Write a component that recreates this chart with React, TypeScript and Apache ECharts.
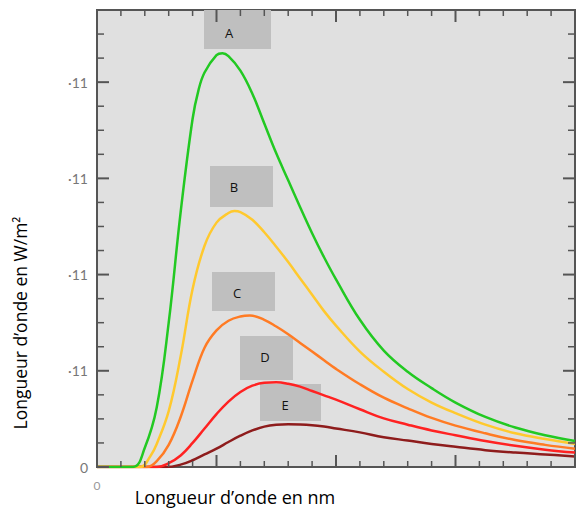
import React, { useEffect, useRef } from "react";
import * as echarts from "echarts";

// Curves: [wavelength (axis units), intensity (axis units)]
const curveA: number[][] = [[0,0],[0.30,0],[0.40,0.2],[0.50,0.62],[0.60,1.5],[0.70,2.65],[0.80,3.62],[0.85,3.92],[0.90,4.10],[1.00,4.28],[1.05,4.30],[1.10,4.27],[1.20,4.12],[1.30,3.88],[1.40,3.57],[1.50,3.26],[1.60,2.98],[1.70,2.70],[1.80,2.43],[1.90,2.18],[2.00,1.95],[2.20,1.53],[2.40,1.21],[2.60,0.99],[2.80,0.82],[3.00,0.67],[3.25,0.52],[3.50,0.41],[3.75,0.33],[4.00,0.27]];
const curveB: number[][] = [[0,0],[0.36,0],[0.45,0.12],[0.50,0.24],[0.60,0.58],[0.70,1.15],[0.80,1.85],[0.90,2.30],[1.00,2.54],[1.10,2.64],[1.15,2.66],[1.20,2.65],[1.30,2.57],[1.40,2.44],[1.50,2.29],[1.60,2.13],[1.70,1.96],[1.80,1.79],[1.90,1.62],[2.00,1.47],[2.20,1.20],[2.40,0.99],[2.60,0.81],[2.80,0.67],[3.00,0.56],[3.25,0.44],[3.50,0.35],[3.75,0.29],[4.00,0.24]];
const curveC: number[][] = [[0,0],[0.42,0],[0.50,0.06],[0.60,0.23],[0.70,0.52],[0.80,0.90],[0.90,1.24],[1.00,1.42],[1.10,1.52],[1.20,1.565],[1.28,1.575],[1.40,1.53],[1.50,1.46],[1.60,1.38],[1.70,1.29],[1.80,1.20],[1.90,1.11],[2.00,1.02],[2.20,0.86],[2.40,0.72],[2.60,0.61],[2.80,0.51],[3.00,0.43],[3.25,0.35],[3.50,0.28],[3.75,0.23],[4.00,0.19]];
const curveD: number[][] = [[0,0],[0.50,0],[0.60,0.04],[0.70,0.12],[0.80,0.25],[0.90,0.40],[1.00,0.55],[1.10,0.68],[1.20,0.78],[1.30,0.845],[1.40,0.875],[1.50,0.88],[1.60,0.865],[1.70,0.835],[1.80,0.79],[1.90,0.745],[2.00,0.70],[2.20,0.60],[2.40,0.505],[2.60,0.44],[2.80,0.38],[3.00,0.33],[3.25,0.27],[3.50,0.22],[3.75,0.18],[4.00,0.15]];
const curveE: number[][] = [[0,0],[0.58,0],[0.70,0.025],[0.80,0.07],[0.90,0.13],[1.00,0.19],[1.10,0.26],[1.20,0.325],[1.30,0.38],[1.40,0.42],[1.50,0.44],[1.60,0.445],[1.70,0.443],[1.80,0.435],[1.90,0.42],[2.00,0.40],[2.20,0.36],[2.40,0.31],[2.60,0.275],[2.80,0.24],[3.00,0.21],[3.25,0.175],[3.50,0.15],[3.75,0.13],[4.00,0.11]];

const seriesNames = ["A", "B", "C", "D", "E"];
const seriesColors = ["#22c922", "#ffc92e", "#ff7b24", "#ff2222", "#8e1c1c"];
const seriesData = [curveA, curveB, curveC, curveD, curveE];

// tick positions (axis values)
const xMajorTicks = [0, 1, 2, 3, 4];
const xMinorTicks = [0.2, 0.4, 0.6, 0.8, 1.2, 1.4, 1.6, 1.8, 2.2, 2.4, 2.6, 2.8, 3.2, 3.4, 3.6, 3.8];
const yMajorTicks = [0, 1, 2, 3, 4];
const yMinorTicks = [0.25, 0.5, 0.75, 1.25, 1.5, 1.75, 2.25, 2.5, 2.75, 3.25, 3.5, 3.75, 4.25, 4.5];

const X_MIN = 0;
const X_MAX = 4;
const Y_MIN = 0;
const Y_MAX = 4.75;

const xTitle = "Longueur d\u2019onde en nm";
const yTitle = "Longueur d\u2019onde en W/m\u00b2";
const yTickText = "\u00b711";

// annotation boxes [left, top, width, height, textX, textY]
const boxes = [
  [204, 10, 67, 39, 229, 33],
  [210, 166, 63, 41, 234, 187],
  [212, 272, 63, 39, 237, 293],
  [240, 336, 53, 44, 265, 357],
  [260, 384, 61, 37, 285, 405],
];

const AXIS_COLOR = "#555555";
const MAJOR_LEN = 12;
const MINOR_LEN = 7;

export default function App() {
  const ref = useRef<HTMLDivElement>(null);
  useEffect(() => {
    if (!ref.current) return;
    const chart = echarts.init(ref.current, undefined, { renderer: "svg" });

    // tick items: [value, side (0 bottom, 1 top, 2 left, 3 right), length]
    const tickItems: number[][] = [];
    xMajorTicks.forEach((v) => { tickItems.push([v, 0, MAJOR_LEN]); tickItems.push([v, 1, MAJOR_LEN]); });
    xMinorTicks.forEach((v) => { tickItems.push([v, 0, MINOR_LEN - 1]); tickItems.push([v, 1, MINOR_LEN - 1]); });
    yMajorTicks.forEach((v) => { tickItems.push([v, 2, MAJOR_LEN]); tickItems.push([v, 3, MAJOR_LEN]); });
    yMinorTicks.forEach((v) => { tickItems.push([v, 2, MINOR_LEN]); tickItems.push([v, 3, MINOR_LEN]); });

    const option: any = {
      animation: false,
      backgroundColor: "#ffffff",
      grid: { left: 97, right: 4, top: 10, bottom: 43, show: true, backgroundColor: "#e0e0e0", borderColor: AXIS_COLOR, borderWidth: 2 },
      xAxis: {
        type: "value", min: X_MIN, max: X_MAX, interval: 1, splitLine: { show: false },
        axisLine: { show: true, lineStyle: { color: AXIS_COLOR, width: 2 } },
        axisTick: { show: false },
        axisLabel: { show: true, margin: 12, color: "#999", fontSize: 12, fontFamily: "Lato", formatter: (v: number) => (v === 0 ? "0" : "") },
      },
      yAxis: {
        type: "value", min: Y_MIN, max: Y_MAX, interval: 1, splitLine: { show: false },
        axisLine: { show: true, lineStyle: { color: AXIS_COLOR, width: 2 } },
        axisTick: { show: false },
        axisLabel: { show: true, margin: 9, color: "#777", fontSize: 14, fontFamily: "Lato",
          formatter: (v: number) => (v === 0 ? "0" : Number.isInteger(v) ? yTickText : "") },
      },
      series: [
        ...seriesData.slice().reverse().map((d, i) => {
          const idx = seriesData.length - 1 - i;
          return {
            name: seriesNames[idx],
            type: "line",
            data: d,
            smooth: 0.4,
            showSymbol: false,
            lineStyle: { color: seriesColors[idx], width: 2.5 },
            z: 3,
          };
        }),
        {
          type: "custom",
          name: "ticks",
          coordinateSystem: "cartesian2d",
          clip: false,
          silent: true,
          z: 6,
          data: tickItems,
          renderItem: (params: any, api: any) => {
            const v = api.value(0);
            const side = api.value(1);
            const len = api.value(2);
            let x1 = 0, y1 = 0, x2 = 0, y2 = 0;
            if (side === 0) {
              const p = api.coord([v, Y_MIN]);
              x1 = p[0]; y1 = p[1]; x2 = p[0]; y2 = p[1] - len;
            } else if (side === 1) {
              const p = api.coord([v, Y_MAX]);
              x1 = p[0]; y1 = p[1]; x2 = p[0]; y2 = p[1] + len;
            } else if (side === 2) {
              const p = api.coord([X_MIN, v]);
              x1 = p[0]; y1 = p[1]; x2 = p[0] + len; y2 = p[1];
            } else {
              const p = api.coord([X_MAX, v]);
              x1 = p[0]; y1 = p[1]; x2 = p[0] - len; y2 = p[1];
            }
            return {
              type: "line",
              shape: { x1, y1, x2, y2 },
              style: { stroke: AXIS_COLOR, lineWidth: len >= MAJOR_LEN ? 2 : 1.5 },
            };
          },
        },
      ],
      graphic: [
        ...boxes.map((b, i) => ({
          type: "group",
          z: 10,
          children: [
            { type: "rect", shape: { x: b[0], y: b[1], width: b[2], height: b[3] }, style: { fill: "#bfbfbf" } },
            { type: "text", x: b[4], y: b[5], style: { text: seriesNames[i], fill: "#111", fontSize: 13, fontFamily: "Open Sans", textAlign: "center", textVerticalAlign: "middle" } },
          ],
        })),
        { type: "text", x: 235, y: 497, style: { text: xTitle, fill: "#000", fontSize: 18, fontFamily: "Open Sans", textAlign: "center", textVerticalAlign: "middle" } },
        { type: "text", x: 20, y: 323, rotation: Math.PI / 2, style: { text: yTitle, fill: "#000", fontSize: 17.5, fontFamily: "Open Sans", textAlign: "center", textVerticalAlign: "middle" } },
      ],
    };
    chart.setOption(option);
    return () => chart.dispose();
  }, []);
  return <div ref={ref} style={{ position: "fixed", left: 0, top: 0, width: 579, height: 510 }} />;
}
